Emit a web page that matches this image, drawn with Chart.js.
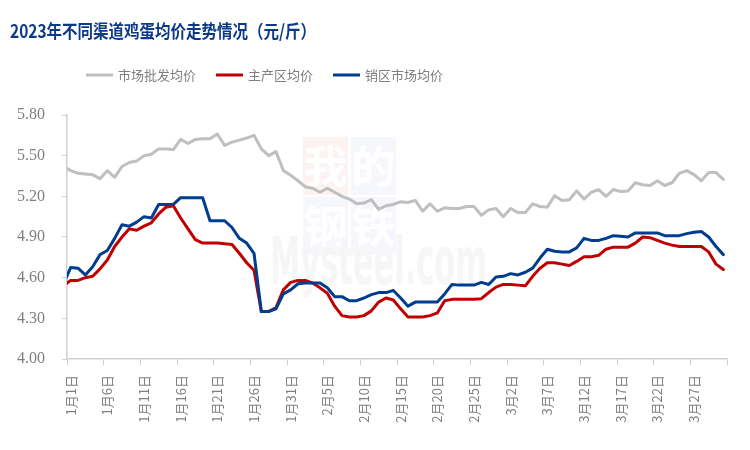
<!DOCTYPE html>
<html lang="zh-CN">
<head>
<meta charset="utf-8">
<title>2023年不同渠道鸡蛋均价走势情况</title>
<script src="https://cdn.jsdelivr.net/npm/chart.js@4.4.1/dist/chart.umd.min.js"></script>
<style>
  html, body { margin: 0; padding: 0; background: #fff; }
  #wrap { width: 750px; height: 450px; }
</style>
</head>
<body>
<div id="wrap"><canvas id="eggChart" width="750" height="450"></canvas></div>
<script>
const titleText = '2023年不同渠道鸡蛋均价走势情况（元/斤）';
const seriesNames = ['市场批发均价', '主产区均价', '销区市场均价'];
const seriesColors = ['#bfbfbf', '#c00000', '#003d8f'];

// 12月31日 .. 4月1日 : the first and last day sit outside the axis range,
// they only show as the clipped ends of the lines
const dates = [];
for (let d = new Date(2022, 11, 31); d <= new Date(2023, 3, 1); d.setDate(d.getDate() + 1)) {
  dates.push(`${d.getMonth() + 1}月${d.getDate()}日`);
}

const yTickValues = [4.00, 4.30, 4.60, 4.90, 5.20, 5.50, 5.80];

const wholesale = [5.42,
  5.39, 5.37, 5.365, 5.36, 5.33, 5.39, 5.34, 5.42, 5.45, 5.46,
  5.50, 5.51, 5.55, 5.55, 5.545, 5.62, 5.59, 5.62, 5.625, 5.625,
  5.66, 5.575, 5.60, 5.615, 5.63, 5.65, 5.55, 5.50, 5.53, 5.39,
  5.355, 5.315, 5.27, 5.26, 5.23, 5.26, 5.23, 5.20, 5.18, 5.145,
  5.15, 5.175, 5.105, 5.13, 5.14, 5.16, 5.155, 5.17, 5.09, 5.145,
  5.09, 5.115, 5.11, 5.11, 5.125, 5.125, 5.06, 5.10, 5.11, 5.05,
  5.11, 5.08, 5.08, 5.145, 5.125, 5.12, 5.205, 5.17, 5.175, 5.24,
  5.18, 5.23, 5.25, 5.20, 5.25, 5.235, 5.24, 5.30, 5.285, 5.28,
  5.315, 5.28, 5.30, 5.37, 5.39, 5.36, 5.315, 5.375, 5.375, 5.325,
  5.30];

const producing = [4.54,
  4.58, 4.58, 4.60, 4.61, 4.665, 4.73, 4.83, 4.90, 4.96, 4.95,
  4.98, 5.005, 5.07, 5.12, 5.13, 5.04, 4.96, 4.88, 4.855, 4.855,
  4.855, 4.85, 4.845, 4.78, 4.71, 4.655, 4.35, 4.35, 4.38, 4.51,
  4.565, 4.58, 4.58, 4.56, 4.525, 4.485, 4.39, 4.32, 4.31, 4.31,
  4.32, 4.355, 4.42, 4.45, 4.435, 4.37, 4.31, 4.31, 4.31, 4.32,
  4.34, 4.43, 4.44, 4.44, 4.44, 4.44, 4.445, 4.49, 4.53, 4.55,
  4.55, 4.545, 4.54, 4.61, 4.67, 4.71, 4.71, 4.70, 4.69, 4.72,
  4.755, 4.755, 4.765, 4.81, 4.825, 4.825, 4.825, 4.855, 4.90, 4.895,
  4.875, 4.855, 4.84, 4.83, 4.83, 4.83, 4.83, 4.79, 4.70, 4.66,
  4.655];

const selling = [4.55,
  4.675, 4.67, 4.62, 4.68, 4.77, 4.80, 4.89, 4.99, 4.98, 5.01,
  5.05, 5.04, 5.14, 5.14, 5.14, 5.19, 5.19, 5.19, 5.19, 5.02,
  5.02, 5.02, 4.97, 4.89, 4.855, 4.78, 4.35, 4.35, 4.37, 4.48,
  4.51, 4.555, 4.56, 4.56, 4.56, 4.525, 4.46, 4.46, 4.43, 4.43,
  4.45, 4.475, 4.49, 4.49, 4.505, 4.45, 4.39, 4.42, 4.42, 4.42,
  4.42, 4.48, 4.55, 4.545, 4.545, 4.545, 4.565, 4.55, 4.605, 4.61,
  4.63, 4.62, 4.64, 4.67, 4.745, 4.81, 4.795, 4.79, 4.79, 4.82,
  4.89, 4.875, 4.875, 4.89, 4.91, 4.905, 4.90, 4.93, 4.93, 4.93,
  4.93, 4.91, 4.91, 4.91, 4.925, 4.935, 4.94, 4.90, 4.83, 4.77,
  4.765];

const axisColor = '#d0d0d0';
const labelColor = '#7f7f7f';
const cjkFont = '"Noto Sans CJK SC", "Noto Sans", sans-serif';

// faint site watermark behind the lines
const watermarkPlugin = {
  id: 'watermark',
  beforeDatasetsDraw(chart) {
    const ctx = chart.ctx;
    const blocks = [
      ['我', 303, 137, '#fdf2f2'],
      ['的', 351, 137, '#f5f7fc'],
      ['钢', 303, 197, '#f5f7fc'],
      ['铁', 351, 197, '#f5f7fc']
    ];
    ctx.save();
    ctx.textAlign = 'center';
    ctx.textBaseline = 'middle';
    ctx.font = 'bold 44px ' + cjkFont;
    blocks.forEach(([ch, x, y, bg]) => {
      ctx.fillStyle = bg;
      ctx.fillRect(x, y, 45, 58);
      ctx.fillStyle = '#ffffff';
      ctx.fillText(ch, x + 22.5, y + 29);
    });
    ctx.textAlign = 'left';
    ctx.textBaseline = 'alphabetic';
    ctx.fillStyle = '#f6f6f6';
    ctx.font = 'bold 66px "DejaVu Sans Condensed", "DejaVu Sans", sans-serif';
    ctx.fillText('Mysteel.com', 270, 284, 217);
    ctx.restore();
  }
};

// title and legend, laid out like the original
const headerPlugin = {
  id: 'header',
  afterDraw(chart) {
    const ctx = chart.ctx;
    ctx.save();
    ctx.textBaseline = 'middle';
    ctx.fillStyle = '#0d3a85';
    ctx.font = 'bold 18px ' + cjkFont;
    ctx.fillText(titleText, 10, 31, 306);

    ctx.font = '13px ' + cjkFont;
    let x = 86;
    const y = 75;
    chart.data.datasets.forEach(ds => {
      ctx.strokeStyle = ds.borderColor;
      ctx.lineWidth = 3;
      ctx.beginPath();
      ctx.moveTo(x, y);
      ctx.lineTo(x + 27, y);
      ctx.stroke();
      x += 32;
      ctx.fillStyle = labelColor;
      ctx.fillText(ds.label, x, y);
      x += ctx.measureText(ds.label).width + 20;
    });
    ctx.restore();
  }
};

function lineDataset(label, data, color, order) {
  return {
    label,
    data,
    borderColor: color,
    backgroundColor: color,
    borderWidth: 3,
    pointRadius: 0,
    pointHoverRadius: 0,
    tension: 0,
    borderJoinStyle: 'round',
    borderCapStyle: 'round',
    order
  };
}

const ctx = document.getElementById('eggChart').getContext('2d');
new Chart(ctx, {
  type: 'line',
  data: {
    labels: dates,
    datasets: [
      lineDataset(seriesNames[0], wholesale, seriesColors[0], 3),
      lineDataset(seriesNames[1], producing, seriesColors[1], 2),
      lineDataset(seriesNames[2], selling, seriesColors[2], 1)
    ]
  },
  options: {
    responsive: false,
    devicePixelRatio: 1,
    animation: false,
    layout: { padding: { top: 115, right: 23, bottom: 0, left: 0 } },
    plugins: {
      legend: { display: false },
      title: { display: false },
      tooltip: { enabled: false }
    },
    scales: {
      x: {
        type: 'category',
        min: 1,
        max: dates.length - 2,
        offset: true,
        grid: {
          offset: true,
          drawOnChartArea: false,
          drawTicks: true,
          tickLength: 6,
          tickWidth: 1,
          tickColor: c => (c.index === undefined || c.index % 5 === 0) ? axisColor : 'rgba(0,0,0,0)'
        },
        border: { color: axisColor, width: 1.5 },
        ticks: {
          autoSkip: false,
          minRotation: 90,
          maxRotation: 90,
          padding: 10,
          color: labelColor,
          font: { family: cjkFont, size: 13 },
          callback(value, index) {
            return index % 5 === 0 ? this.getLabelForValue(value) : '';
          }
        },
        afterFit(scale) { scale.height = 91; }
      },
      y: {
        min: 4.0,
        max: 5.8,
        afterBuildTicks(scale) {
          scale.ticks = yTickValues.map(value => ({ value }));
        },
        grid: {
          drawOnChartArea: false,
          drawTicks: true,
          tickLength: 5,
          tickColor: axisColor
        },
        border: { color: axisColor, width: 1.5 },
        ticks: {
          padding: 17,
          color: labelColor,
          font: { family: '"Liberation Serif", "Times New Roman", serif', size: 16 },
          callback: v => Number(v).toFixed(2)
        },
        afterFit(scale) { scale.width = 67; }
      }
    }
  },
  plugins: [watermarkPlugin, headerPlugin]
});
</script>
</body>
</html>
